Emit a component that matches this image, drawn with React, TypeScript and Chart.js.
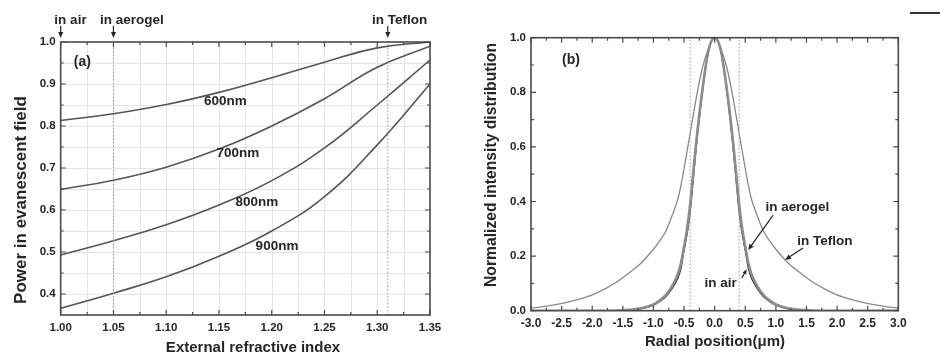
import React, { useEffect, useRef } from "react";
import { Chart, registerables } from "chart.js";

Chart.register(...registerables);

const FONT = '"Liberation Sans", Arial, Helvetica, sans-serif';
const INK = "#262626";
const AXIS = "#4a4a4a";

// ---------------- Panel (a): power in evanescent field ----------------
const INDEX_N = [1.0, 1.05, 1.1, 1.15, 1.2, 1.25, 1.3, 1.35];
const POWER_600 = [0.813, 0.829, 0.851, 0.88, 0.915, 0.952, 0.986, 1.0];
const POWER_700 = [0.649, 0.671, 0.702, 0.745, 0.8, 0.865, 0.94, 0.99];
const POWER_800 = [0.493, 0.527, 0.565, 0.612, 0.67, 0.748, 0.85, 0.957];
const POWER_900 = [0.366, 0.402, 0.441, 0.49, 0.55, 0.632, 0.755, 0.9];
const A_X_TICKS = [1.0, 1.05, 1.1, 1.15, 1.2, 1.25, 1.3, 1.35];
const A_Y_TICKS = [0.4, 0.5, 0.6, 0.7, 0.8, 0.9, 1.0];
const A_MARKERS = [1.05, 1.31];

// ---------------- Panel (b): normalized intensity ----------------
const RADIAL = [
  -3.0, -2.8, -2.6, -2.4, -2.2, -2.0, -1.8, -1.6, -1.4, -1.2, -1.0, -0.9, -0.8, -0.7, -0.6, -0.55,
  -0.5, -0.45, -0.4, -0.35, -0.3, -0.2, -0.1, 0.0, 0.1, 0.2, 0.3, 0.35, 0.4, 0.45, 0.5, 0.55, 0.6,
  0.7, 0.8, 0.9, 1.0, 1.2, 1.4, 1.6, 1.8, 2.0, 2.2, 2.4, 2.6, 2.8, 3.0,
];
const I_TEFLON = [
  0.01, 0.015, 0.022, 0.031, 0.043, 0.058, 0.079, 0.105, 0.138, 0.175, 0.225, 0.255, 0.29, 0.345, 0.41, 0.46,
  0.52, 0.585, 0.65, 0.715, 0.78, 0.89, 0.96, 1.0, 0.96, 0.89, 0.78, 0.715, 0.65, 0.585, 0.52, 0.46, 0.41,
  0.345, 0.29, 0.255, 0.225, 0.175, 0.138, 0.105, 0.079, 0.058, 0.043, 0.031, 0.022, 0.015, 0.01,
];
const I_AEROGEL = [
  0, 0, 0, 0, 0, 0, 0, 0.001, 0.003, 0.009, 0.023, 0.037, 0.057, 0.088, 0.135, 0.175,
  0.235, 0.3, 0.39, 0.505, 0.62, 0.81, 0.955, 1.0, 0.955, 0.81, 0.62, 0.505, 0.39, 0.3, 0.235, 0.175, 0.135,
  0.088, 0.057, 0.037, 0.023, 0.009, 0.003, 0.001, 0, 0, 0, 0, 0, 0, 0,
];
const I_AIR = [
  0, 0, 0, 0, 0, 0, 0, 0, 0.002, 0.007, 0.02, 0.033, 0.051, 0.08, 0.12, 0.155,
  0.22, 0.28, 0.36, 0.48, 0.6, 0.8, 0.95, 1.0, 0.95, 0.8, 0.6, 0.48, 0.36, 0.28, 0.22, 0.155, 0.12,
  0.08, 0.051, 0.033, 0.02, 0.007, 0.002, 0, 0, 0, 0, 0, 0, 0, 0,
];
const B_X_TICKS = [-3.0, -2.5, -2.0, -1.5, -1.0, -0.5, 0.0, 0.5, 1.0, 1.5, 2.0, 2.5, 3.0];
const B_Y_TICKS = [0.0, 0.2, 0.4, 0.6, 0.8, 1.0];
const B_MARKERS = [-0.4, 0.4];

const mid = (arr: number[]) => arr.slice(1).map((v, i) => (v + arr[i]) / 2);
const pts = (xs: number[], ys: number[]) => xs.map((x, i) => ({ x, y: ys[i] }));

type Mode = "data" | "px";
type Txt = { text: string; x: number; y: number; size: number; align?: CanvasTextAlign; baseline?: CanvasTextBaseline; xm?: Mode; ym?: Mode };
type Arr = { x1: number; y1: number; x2: number; y2: number; xm?: Mode; ym?: Mode; head?: number };
type Title = { text: string; x: number; y: number; size: number };

function drawArrow(ctx: CanvasRenderingContext2D, x1: number, y1: number, x2: number, y2: number, L: number) {
  const a = Math.atan2(y2 - y1, x2 - x1);
  const W = L * 0.42;
  ctx.beginPath();
  ctx.moveTo(x1, y1);
  ctx.lineTo(x2 - L * 0.7 * Math.cos(a), y2 - L * 0.7 * Math.sin(a));
  ctx.stroke();
  ctx.beginPath();
  ctx.moveTo(x2, y2);
  ctx.lineTo(x2 - L * Math.cos(a) + W * Math.sin(a), y2 - L * Math.sin(a) - W * Math.cos(a));
  ctx.lineTo(x2 - L * Math.cos(a) - W * Math.sin(a), y2 - L * Math.sin(a) + W * Math.cos(a));
  ctx.closePath();
  ctx.fill();
}

function makeDecor(o: {
  id: string;
  gridX?: number[];
  gridY?: number[];
  majX: number[];
  majY: number[];
  texts: Txt[];
  arrows: Arr[];
  yTitle: Title;
  xTitle: Title;
}) {
  return {
    id: o.id,
    beforeDatasetsDraw(chart: any) {
      const { ctx, chartArea: ca, scales } = chart;
      ctx.save();
      ctx.strokeStyle = "#e4e4e4";
      ctx.lineWidth = 1;
      (o.gridX || []).forEach((v) => {
        const p = Math.round(scales.x.getPixelForValue(v)) + 0.5;
        ctx.beginPath();
        ctx.moveTo(p, ca.top);
        ctx.lineTo(p, ca.bottom);
        ctx.stroke();
      });
      (o.gridY || []).forEach((v) => {
        const p = Math.round(scales.y.getPixelForValue(v)) + 0.5;
        ctx.beginPath();
        ctx.moveTo(ca.left, p);
        ctx.lineTo(ca.right, p);
        ctx.stroke();
      });
      ctx.restore();
    },
    afterDraw(chart: any) {
      const { ctx, chartArea: ca, scales } = chart;
      const X = (v: number, m?: Mode) => (m === "px" ? v : scales.x.getPixelForValue(v));
      const Y = (v: number, m?: Mode) => (m === "px" ? v : scales.y.getPixelForValue(v));
      ctx.save();
      // frame
      ctx.strokeStyle = AXIS;
      ctx.lineWidth = 1.6;
      ctx.strokeRect(ca.left, ca.top, ca.right - ca.left, ca.bottom - ca.top);
      // inward ticks on all sides
      ctx.lineWidth = 1.2;
      const tick = (vals: number[], len: number) => {
        vals.forEach((v) => {
          const p = scales.x.getPixelForValue(v);
          ctx.beginPath();
          ctx.moveTo(p, ca.bottom);
          ctx.lineTo(p, ca.bottom - len);
          ctx.moveTo(p, ca.top);
          ctx.lineTo(p, ca.top + len);
          ctx.stroke();
        });
      };
      const tickY = (vals: number[], len: number) => {
        vals.forEach((v) => {
          const p = scales.y.getPixelForValue(v);
          ctx.beginPath();
          ctx.moveTo(ca.left, p);
          ctx.lineTo(ca.left + len, p);
          ctx.moveTo(ca.right, p);
          ctx.lineTo(ca.right - len, p);
          ctx.stroke();
        });
      };
      tick(o.majX, 5);
      tick(mid(o.majX), 3);
      tickY(o.majY, 5);
      tickY(mid(o.majY), 3);
      // annotations
      ctx.fillStyle = INK;
      o.texts.forEach((t) => {
        ctx.font = `bold ${t.size}px ${FONT}`;
        ctx.textAlign = t.align || "center";
        ctx.textBaseline = t.baseline || "middle";
        ctx.fillText(t.text, X(t.x, t.xm), Y(t.y, t.ym));
      });
      ctx.strokeStyle = INK;
      ctx.lineWidth = 1.2;
      o.arrows.forEach((a) => {
        drawArrow(ctx, X(a.x1, a.xm), Y(a.y1, a.ym), X(a.x2, a.xm), Y(a.y2, a.ym), a.head || 6);
      });
      // titles
      ctx.font = `bold ${o.xTitle.size}px ${FONT}`;
      ctx.textAlign = "center";
      ctx.textBaseline = "alphabetic";
      ctx.fillText(o.xTitle.text, o.xTitle.x, o.xTitle.y);
      ctx.translate(o.yTitle.x, o.yTitle.y);
      ctx.rotate(-Math.PI / 2);
      ctx.font = `bold ${o.yTitle.size}px ${FONT}`;
      ctx.textBaseline = "middle";
      ctx.fillText(o.yTitle.text, 0, 0);
      ctx.restore();
    },
  };
}

function axis(min: number, max: number, ticks: number[], dec: number, size: number, fit: number, isX: boolean, pad: number) {
  return {
    type: "linear",
    min,
    max,
    afterBuildTicks: (s: any) => {
      s.ticks = ticks.map((v) => ({ value: v }));
    },
    afterFit: (s: any) => {
      if (isX) s.height = fit;
      else s.width = fit;
    },
    grid: { display: false, drawTicks: false },
    border: { display: false },
    ticks: {
      autoSkip: false,
      maxRotation: 0,
      minRotation: 0,
      padding: pad,
      color: INK,
      font: { family: FONT, size, weight: "bold" },
      callback: (v: any) => Number(v).toFixed(dec),
    },
    title: { display: false },
  };
}

const curve = (data: any[], color: string, width: number, smooth: boolean) => ({
  data,
  borderColor: color,
  borderWidth: width,
  pointRadius: 0,
  fill: false,
  cubicInterpolationMode: smooth ? "default" : "monotone",
  tension: smooth ? 0.45 : 0,
});

const marker = (x: number, y0: number, y1: number) => ({
  data: [
    { x, y: y0 },
    { x, y: y1 },
  ],
  borderColor: "#9a9a9a",
  borderWidth: 1,
  borderDash: [1.5, 2],
  pointRadius: 0,
  fill: false,
});

function configA() {
  const decor = makeDecor({
    id: "decorA",
    gridX: [...A_X_TICKS.slice(1, -1), ...mid(A_X_TICKS)],
    gridY: [...A_Y_TICKS.slice(0, -1), 0.45, 0.55, 0.65, 0.75, 0.85, 0.95],
    majX: A_X_TICKS,
    majY: A_Y_TICKS,
    texts: [
      { text: "(a)", x: 1.0205, y: 0.952, size: 14 },
      { text: "600nm", x: 1.156, y: 0.86, size: 13.5 },
      { text: "700nm", x: 1.168, y: 0.736, size: 13.5 },
      { text: "800nm", x: 1.186, y: 0.619, size: 13.5 },
      { text: "900nm", x: 1.205, y: 0.514, size: 13.5 },
      { text: "in air", x: 0.994, y: 23.5, ym: "px", size: 13.5, align: "left", baseline: "alphabetic" },
      { text: "in aerogel", x: 1.0372, y: 23.5, ym: "px", size: 13.5, align: "left", baseline: "alphabetic" },
      { text: "in Teflon", x: 1.295, y: 23.5, ym: "px", size: 13.5, align: "left", baseline: "alphabetic" },
    ],
    arrows: [
      { x1: 1.0, y1: 26, x2: 1.0, y2: 38, ym: "px", head: 6 },
      { x1: 1.05, y1: 26, x2: 1.05, y2: 38, ym: "px", head: 6 },
      { x1: 1.31, y1: 26, x2: 1.31, y2: 38, ym: "px", head: 6 },
    ],
    xTitle: { text: "External refractive index", x: 253, y: 351.5, size: 15 },
    yTitle: { text: "Power in evanescent field", x: 21.5, y: 200, size: 17 },
  });
  return {
    type: "line",
    data: {
      datasets: [
        ...A_MARKERS.map((m) => marker(m, 0.35, 1.0)),
        curve(pts(INDEX_N, POWER_600), "#555", 1.6, true),
        curve(pts(INDEX_N, POWER_700), "#555", 1.6, true),
        curve(pts(INDEX_N, POWER_800), "#555", 1.6, true),
        curve(pts(INDEX_N, POWER_900), "#555", 1.6, true),
      ],
    },
    options: {
      animation: false,
      responsive: false,
      devicePixelRatio: 1,
      layout: { padding: { left: 0, right: 40, top: 42, bottom: 0 } },
      plugins: { legend: { display: false }, tooltip: { enabled: false } },
      scales: {
        x: axis(1.0, 1.35, A_X_TICKS, 2, 11.5, 38, true, 6),
        y: axis(0.35, 1.0, A_Y_TICKS, 1, 11.5, 60.7, false, 5),
      },
    },
    plugins: [decor],
  };
}

function configB() {
  const decor = makeDecor({
    id: "decorB",
    majX: B_X_TICKS,
    majY: B_Y_TICKS,
    texts: [
      { text: "(b)", x: -2.346, y: 0.918, size: 14 },
      { text: "in aerogel", x: 1.35, y: 0.38, size: 13.5 },
      { text: "in Teflon", x: 1.8, y: 0.255, size: 13.5 },
      { text: "in air", x: 0.096, y: 0.101, size: 13.5 },
    ],
    arrows: [
      { x1: 0.955, y1: 0.35, x2: 0.546, y2: 0.222, head: 6 },
      { x1: 1.444, y1: 0.23, x2: 1.15, y2: 0.186, head: 6 },
      { x1: 0.443, y1: 0.119, x2: 0.525, y2: 0.152, head: 5 },
    ],
    xTitle: { text: "Radial position(\u03bcm)", x: 245, y: 345.5, size: 15 },
    yTitle: { text: "Normalized intensity distribution", x: 21.7, y: 165, size: 15.7 },
  });
  return {
    type: "line",
    data: {
      datasets: [
        ...B_MARKERS.map((m) => marker(m, 0, 1.0)),
        curve(pts(RADIAL, I_TEFLON), "#8a8a8a", 1.3, false),
        curve(pts(RADIAL, I_AEROGEL), "#8c8c8c", 2.6, false),
        curve(pts(RADIAL, I_AIR), "#333", 1.3, false),
      ],
    },
    options: {
      animation: false,
      responsive: false,
      devicePixelRatio: 1,
      layout: { padding: { left: 0, right: 41.7, top: 37.7, bottom: 0 } },
      plugins: { legend: { display: false }, tooltip: { enabled: false } },
      scales: {
        x: axis(-3, 3, B_X_TICKS, 1, 12, 42.3, true, 6),
        y: axis(0, 1, B_Y_TICKS, 1, 11.5, 61, false, 5),
      },
    },
    plugins: [decor],
  };
}

function Panel({ make, left }: { make: () => any; left: number }) {
  const ref = useRef<HTMLCanvasElement>(null);
  useEffect(() => {
    const chart = new Chart(ref.current as HTMLCanvasElement, make());
    return () => chart.destroy();
  }, [make]);
  return (
    <canvas
      ref={ref}
      width={470}
      height={353}
      style={{ position: "absolute", left, top: 0, width: 470, height: 353 }}
    />
  );
}

export default function App() {
  return (
    <div style={{ position: "fixed", left: 0, top: 0, width: 940, height: 353, background: "#fff", overflow: "hidden" }}>
      <Panel make={configA} left={0} />
      <Panel make={configB} left={470} />
      <div style={{ position: "absolute", left: 910, top: 12, width: 30, height: 2, background: "#333" }} />
    </div>
  );
}
